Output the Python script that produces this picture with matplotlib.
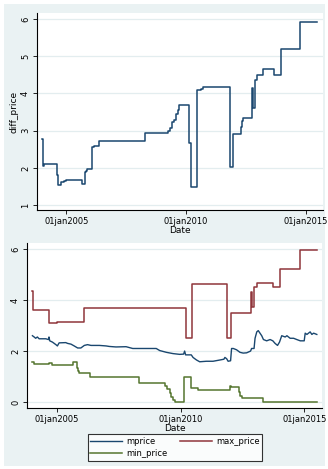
import matplotlib
matplotlib.use("Agg")
import matplotlib.pyplot as plt
from matplotlib.patches import Rectangle

# dates as decimal years
diff_t = [2003.99, 2004.03, 2004.08, 2004.63, 2004.67, 2004.80, 2004.90, 2004.98,
          2005.65, 2005.77, 2005.82, 2005.88, 2006.07, 2006.15, 2006.36, 2008.30,
          2009.26, 2009.33, 2009.42, 2009.48, 2009.58, 2009.65, 2009.72, 2010.13,
          2010.20, 2010.46, 2010.62, 2010.72, 2011.84, 2011.98, 2012.28, 2012.33,
          2012.38, 2012.76, 2012.80, 2012.88, 2012.95, 2013.22, 2013.67, 2013.95,
          2014.75, 2015.47]
diff_v = [2.78, 2.05, 2.10, 1.80, 1.55, 1.63, 1.65, 1.68,
          1.57, 1.88, 1.93, 1.97, 2.55, 2.58, 2.72, 2.93,
          3.00, 3.08, 3.22, 3.30, 3.45, 3.55, 3.68, 2.68,
          1.50, 4.08, 4.12, 4.17, 2.02, 2.92, 3.10, 3.25,
          3.35, 4.15, 3.60, 4.35, 4.50, 4.65, 4.50, 5.20,
          5.93, 5.93]

max_t = [2004.00, 2004.03, 2004.67, 2005.00, 2006.10, 2010.20, 2010.47, 2011.88,
         2012.02, 2012.83, 2012.88, 2012.97, 2013.10, 2013.75, 2014.02, 2014.84,
         2015.50]
max_v = [4.36, 3.61, 3.08, 3.13, 3.68, 2.50, 4.62, 2.50,
         3.50, 4.30, 3.73, 4.50, 4.66, 4.50, 5.21, 5.94,
         5.94]

min_t = [2004.00, 2004.05, 2004.67, 2004.78, 2005.65, 2005.79, 2005.83, 2005.90,
         2006.33, 2008.30, 2009.35, 2009.45, 2009.55, 2009.62, 2009.70, 2009.78,
         2010.14, 2010.43, 2010.70, 2011.99, 2012.02, 2012.37, 2012.42, 2012.47,
         2013.32, 2015.50]
min_v = [1.57, 1.50, 1.55, 1.45, 1.57, 1.35, 1.20, 1.13,
         0.97, 0.74, 0.62, 0.50, 0.35, 0.22, 0.10, 0.00,
         1.00, 0.55, 0.47, 0.65, 0.58, 0.40, 0.25, 0.16,
         0.00, 0.00]

mp_t = [2004.00, 2004.07, 2004.13, 2004.20, 2004.27, 2004.54, 2004.65, 2004.67,
        2004.70, 2004.81, 2004.95, 2005.01, 2005.08, 2005.35, 2005.42, 2005.56,
        2005.69, 2005.83, 2005.96, 2006.10, 2006.23, 2006.37, 2006.71, 2006.98,
        2007.11, 2007.38, 2007.79, 2008.06, 2008.47, 2009.01, 2009.15, 2009.42,
        2009.69, 2009.96, 2010.12, 2010.16, 2010.20, 2010.43, 2010.50, 2010.64,
        2010.77, 2011.04, 2011.31, 2011.59, 2011.75, 2011.79, 2011.86, 2011.92,
        2012.02, 2012.06, 2012.13, 2012.26, 2012.40, 2012.53, 2012.67, 2012.83,
        2012.87, 2012.97, 2013.01, 2013.08, 2013.14, 2013.21, 2013.28, 2013.35,
        2013.48, 2013.62, 2013.73, 2013.82, 2013.92, 2014.00, 2014.09, 2014.23,
        2014.30, 2014.43, 2014.57, 2014.70, 2014.84, 2015.00, 2015.04, 2015.11,
        2015.24, 2015.31, 2015.38, 2015.51]
mp_v = [2.60, 2.55, 2.50, 2.55, 2.48, 2.48, 2.45, 2.55,
        2.40, 2.35, 2.25, 2.20, 2.32, 2.33, 2.30, 2.27,
        2.20, 2.12, 2.12, 2.22, 2.25, 2.22, 2.22, 2.20,
        2.18, 2.16, 2.17, 2.10, 2.10, 2.10, 2.02, 1.95,
        1.90, 1.87, 1.88, 2.00, 1.85, 1.85, 1.75, 1.65,
        1.58, 1.60, 1.60, 1.65, 1.68, 1.75, 1.70, 1.60,
        1.62, 2.10, 2.10, 2.05, 1.95, 1.92, 1.93, 2.00,
        2.10, 2.10, 2.50, 2.75, 2.80, 2.70, 2.60, 2.45,
        2.40, 2.45, 2.40, 2.30, 2.22, 2.35, 2.60, 2.55,
        2.60, 2.50, 2.50, 2.45, 2.40, 2.40, 2.70, 2.65,
        2.75, 2.65, 2.70, 2.65]

xticks = [2005, 2010, 2015]
xlabels = ["01jan2005", "01jan2010", "01jan2015"]

bg = "#eaf2f3"
navy = "#1a476f"
maroon = "#90353b"
green = "#55752f"

plt.rcParams['font.family'] = ['DejaVu Sans']
plt.rcParams['font.size'] = 6

fig = plt.figure(figsize=(3.28, 4.69), dpi=100)
fig.patches.append(Rectangle((4 / 328, 3 / 469), 321 / 328, 462 / 469,
                             transform=fig.transFigure, facecolor=bg,
                             edgecolor="none", zorder=-10))


def style(ax, yticks):
    ax.set_facecolor("white")
    for s in ["top", "right"]:
        ax.spines[s].set_visible(False)
    ax.spines["left"].set_linewidth(0.8)
    ax.spines["bottom"].set_linewidth(0.8)
    ax.set_xlim(2003.78, 2015.72)
    ax.set_xticks(xticks)
    ax.set_xticklabels(xlabels)
    ax.set_yticks(yticks)
    ax.set_yticklabels([str(v) for v in yticks], rotation=90, va="center")
    ax.tick_params(length=3, width=0.6, labelsize=6, pad=2)
    ax.grid(axis="y", color="#e3edef", linewidth=0.9)
    ax.set_axisbelow(True)
    ax.set_xlabel("Date", fontsize=6.5, labelpad=0)


ax1 = fig.add_axes([37 / 328, 1 - 210 / 469, 286 / 328, 197 / 469])
ax1.step(diff_t, diff_v, where="post", color=navy, linewidth=1.1)
style(ax1, [1, 2, 3, 4, 5, 6])
ax1.set_ylim(0.87, 6.16)
ax1.set_ylabel("diff_price", fontsize=6.5, labelpad=2)

ax2 = fig.add_axes([27 / 328, 1 - 408 / 469, 295 / 328, 165 / 469])
l1, = ax2.plot(mp_t, mp_v, color=navy, linewidth=1.0)
l2, = ax2.step(max_t, max_v, where="post", color=maroon, linewidth=1.1)
l3, = ax2.step(min_t, min_v, where="post", color=green, linewidth=1.1)
style(ax2, [0, 2, 4, 6])
ax2.set_ylim(-0.23, 6.23)

# column-wise fill so rows read: mprice, max_price / min_price
leg = fig.legend([l1, l3, l2], ["mprice", "min_price", "max_price"], ncol=2,
                 loc="center", bbox_to_anchor=(175 / 328, 1 - 447.5 / 469),
                 fontsize=6, frameon=True, fancybox=False, edgecolor="black",
                 handlelength=3.8, columnspacing=1.6, borderpad=0.35,
                 labelspacing=0.45, handletextpad=0.45, borderaxespad=0)
leg.get_frame().set_linewidth(0.8)

fig.savefig("out.png", dpi=100, facecolor="white")
